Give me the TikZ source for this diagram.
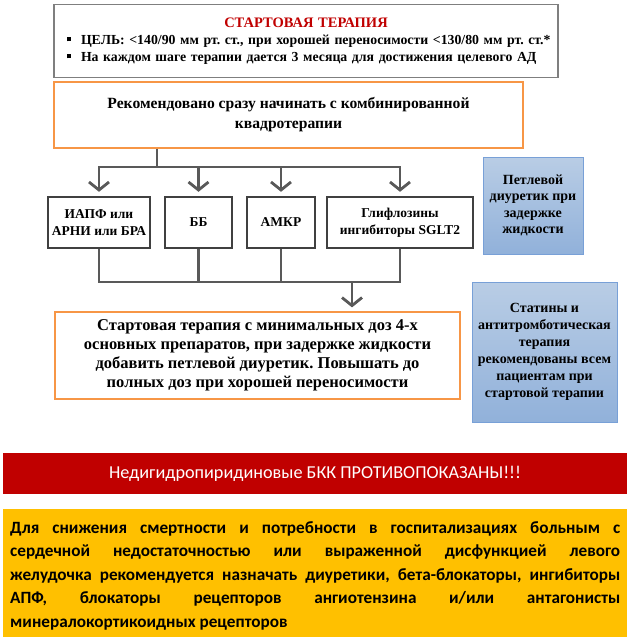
\documentclass[tikz,border=0pt]{standalone}
\usepackage{fontspec}
\setmainfont{Liberation Serif}
\setsansfont{Carlito}
\usetikzlibrary{arrows.meta, positioning, calc}
\definecolor{FrameGray}{RGB}{127,127,127}
\definecolor{LineGray}{RGB}{89,89,89}
\definecolor{BoxDark}{RGB}{64,64,64}
\definecolor{OrangeLine}{RGB}{247,150,70}
\definecolor{TitleRed}{RGB}{192,0,0}
\definecolor{BlueTop}{RGB}{185,205,229}
\definecolor{BlueBot}{RGB}{145,177,218}
\definecolor{BlueLine}{RGB}{120,160,215}
\definecolor{AlertBar}{RGB}{192,0,0}
\definecolor{NoteYellow}{RGB}{255,192,0}
\frenchspacing

\begin{document}
\begin{tikzpicture}[x=1pt, y=-1pt,
  goalbox/.style={draw=FrameGray, line width=1.8pt, minimum width=504pt, minimum height=73pt, inner sep=0pt},
  stepbox/.style={draw=OrangeLine, line width=1.3pt, fill=white, align=center, inner sep=0pt},
  drugbox/.style={draw=BoxDark, line width=2.4pt, align=center, minimum height=51pt, inner sep=0pt,
    font=\bfseries\fontsize{13.5}{17}\selectfont},
  sidebox/.style={draw=BlueLine, line width=1pt, top color=BlueTop, bottom color=BlueBot, align=center,
    inner sep=0pt, font=\bfseries\fontsize{14}{16.5}\selectfont},
  link/.style={draw=LineGray, line width=2.8pt},
  arr/.style={link, -{Straight Barb[length=8pt, width=20pt]}, shorten >=4pt},
]
\useasboundingbox (0,0) rectangle (630,637);

% Starting therapy goal
\node[goalbox, text width=500pt, align=left, font=\bfseries\fontsize{13.8}{17}\selectfont] (goal) at (306,41)
  {\centerline{\color{TitleRed}\fontsize{14.5}{17}\selectfont СТАРТОВАЯ ТЕРАПИЯ}
   \hspace*{11pt}\rule[3pt]{4pt}{4pt}\hspace{10pt}ЦЕЛЬ: <140/90 мм рт. ст., при хорошей переносимости <130/80 мм рт. ст.*\\
   \hspace*{11pt}\rule[3pt]{4pt}{4pt}\hspace{10pt}На каждом шаге терапии дается 3 месяца для достижения целевого АД};

\node[stepbox, minimum width=469pt, minimum height=66pt, font=\bfseries\fontsize{15.6}{20}\selectfont] (start) at (288.5,115)
  {Рекомендовано сразу начинать с комбинированной\\квадротерапии};

% Four drug classes
\node[drugbox, minimum width=102pt] (acei) at (99,222.5) {ИАПФ или\\АРНИ или БРА};
\node[drugbox, minimum width=67pt] (bb) at (198.5,222.5) {ББ};
\node[drugbox, minimum width=68pt] (amkr) at (281,222.5) {АМКР};
\node[drugbox, minimum width=146pt] (sglt) at (400,222.5) {Глифлозины\\ингибиторы SGLT2};

\node[stepbox, minimum width=405pt, minimum height=87pt, font=\bfseries\fontsize{16.5}{19}\selectfont] (dose) at (257.5,355.5)
  {Стартовая терапия с минимальных доз 4-х\\основных препаратов, при задержке жидкости\\добавить петлевой диуретик. Повышать до\\полных доз при хорошей переносимости};

\node[sidebox, minimum width=100pt, minimum height=97pt] (loop) at (533,205.5)
  {Петлевой\\диуретик при\\задержке\\жидкости};
\node[sidebox, minimum width=145pt, minimum height=140pt, font=\bfseries\fontsize{14}{17}\selectfont] (statin) at (544.5,352)
  {Статины и\\антитромботическая\\терапия\\рекомендованы всем\\пациентам при\\стартовой терапии};

% Connectors
\coordinate (split) at (157,167);
\coordinate (merge) at (352,282);
\draw[link] (start.south -| split) -- (split);
\foreach \d in {acei,bb,amkr,sglt}{
  \draw[arr] (split) -| (\d);
  \draw[link] (\d) |- (merge);
}
\draw[arr] (merge) -- (dose.north -| merge);

% Warning and note
\node[fill=AlertBar, minimum width=624pt, minimum height=41pt, inner sep=0pt, text=white,
  font=\sffamily\fontsize{18.2}{20}\selectfont] (ban) at (315,473.5) {Недигидропиридиновые БКК ПРОТИВОПОКАЗАНЫ!!!};
\node[fill=NoteYellow, anchor=north west, text width=610pt, inner xsep=7pt, inner ysep=12pt, align=justify,
  font=\sffamily\bfseries\fontsize{17.2}{23.5}\selectfont] (note) at (3,509)
  {Для снижения смертности и потребности в госпитализациях больным с\linebreak
   сердечной недостаточностью или выраженной дисфункцией левого\linebreak
   желудочка рекомендуется назначать диуретики, бета-блокаторы, ингибиторы\linebreak
   АПФ, блокаторы рецепторов ангиотензина и/или антагонисты\linebreak
   минералокортикоидных рецепторов};
\end{tikzpicture}
\end{document}
